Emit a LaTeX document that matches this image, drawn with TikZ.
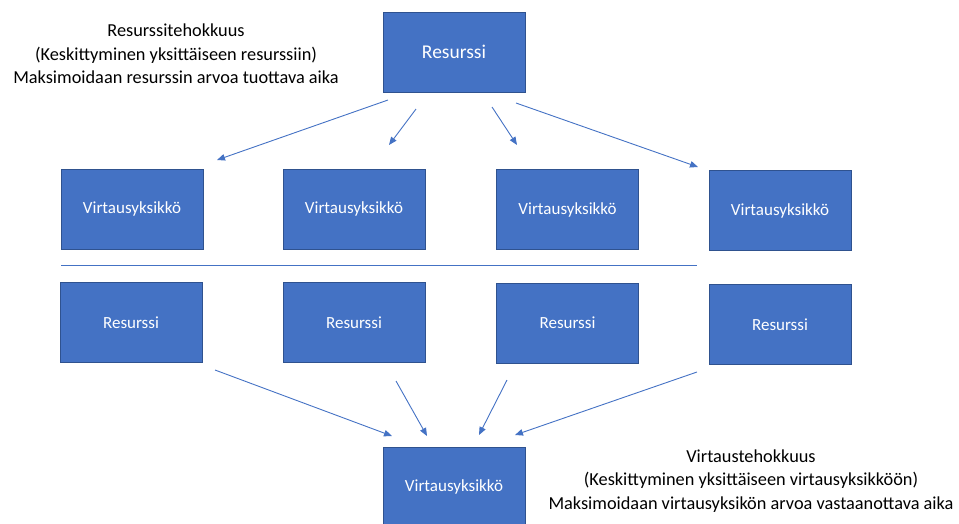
\documentclass[tikz,border=0pt]{standalone}
\usepackage{fontspec}
\setmainfont{Carlito}
\usetikzlibrary{arrows.meta}
\definecolor{boxfill}{HTML}{4472C4}
\definecolor{boxedge}{HTML}{2F528F}
\definecolor{linkblue}{HTML}{4472C4}
\begin{document}
\begin{tikzpicture}[x=1pt,y=-1pt,
  unitbox/.style={draw=boxedge, line width=0.8pt, fill=boxfill, text=white,
    minimum width=142pt, minimum height=80pt, inner sep=0pt,
    font=\fontsize{17}{20}\selectfont},
  flowarrow/.style={draw=linkblue, line width=0.9pt,
    -{Triangle[length=8pt,width=6.5pt]}},
  caption/.style={align=center, text=black,
    font=\fontsize{18.3}{23.5}\selectfont}]
\useasboundingbox (0,0) rectangle (959,523);

% source resource and its flow units
\node[unitbox, font=\fontsize{19.5}{23}\selectfont] (res) at (454,52) {Resurssi};
\node[unitbox] (fu1) at (132,209) {Virtausyksikkö};
\node[unitbox] (fu2) at (354,209) {Virtausyksikkö};
\node[unitbox] (fu3) at (567.5,209.5) {Virtausyksikkö};
\node[unitbox] (fu4) at (780,210.5) {Virtausyksikkö};

% divider between the two views
\coordinate (divl) at (61,265);
\coordinate (divr) at (697,265);
\draw[draw=linkblue, line width=0.8pt] (divl) -- (divr);

% resources feeding one flow unit
\node[unitbox] (rs1) at (131,322.5) {Resurssi};
\node[unitbox] (rs2) at (354,322.5) {Resurssi};
\node[unitbox] (rs3) at (567.5,323) {Resurssi};
\node[unitbox] (rs4) at (780,324.5) {Resurssi};
\node[unitbox] (flow) at (454,487) {Virtausyksikkö};

% captions
\node[caption] (capres) at (176,54) {Resurssitehokkuus\\(Keskittyminen yksittäiseen resurssiin)\\Maksimoidaan resurssin arvoa tuottava aika};
\node[caption] (capflow) at (751,481) {Virtaustehokkuus\\(Keskittyminen yksittäiseen virtausyksikköön)\\Maksimoidaan virtausyksikön arvoa vastaanottava aika};

% arrow ends, upper fan
\coordinate (u1s) at (388,100); \coordinate (u1e) at (217,160);
\coordinate (u2s) at (416,109); \coordinate (u2e) at (389,145);
\coordinate (u3s) at (492,107); \coordinate (u3e) at (517,145);
\coordinate (u4s) at (516,103); \coordinate (u4e) at (698,167);
\foreach \i in {1,...,4} \draw[flowarrow] (u\i s) -- (u\i e);

% arrow ends, lower fan
\coordinate (l1s) at (215,370); \coordinate (l1e) at (392,436);
\coordinate (l2s) at (396,381); \coordinate (l2e) at (427,436);
\coordinate (l3s) at (507,380); \coordinate (l3e) at (479,435);
\coordinate (l4s) at (697,372); \coordinate (l4e) at (515,435);
\foreach \i in {1,...,4} \draw[flowarrow] (l\i s) -- (l\i e);
\end{tikzpicture}
\end{document}
